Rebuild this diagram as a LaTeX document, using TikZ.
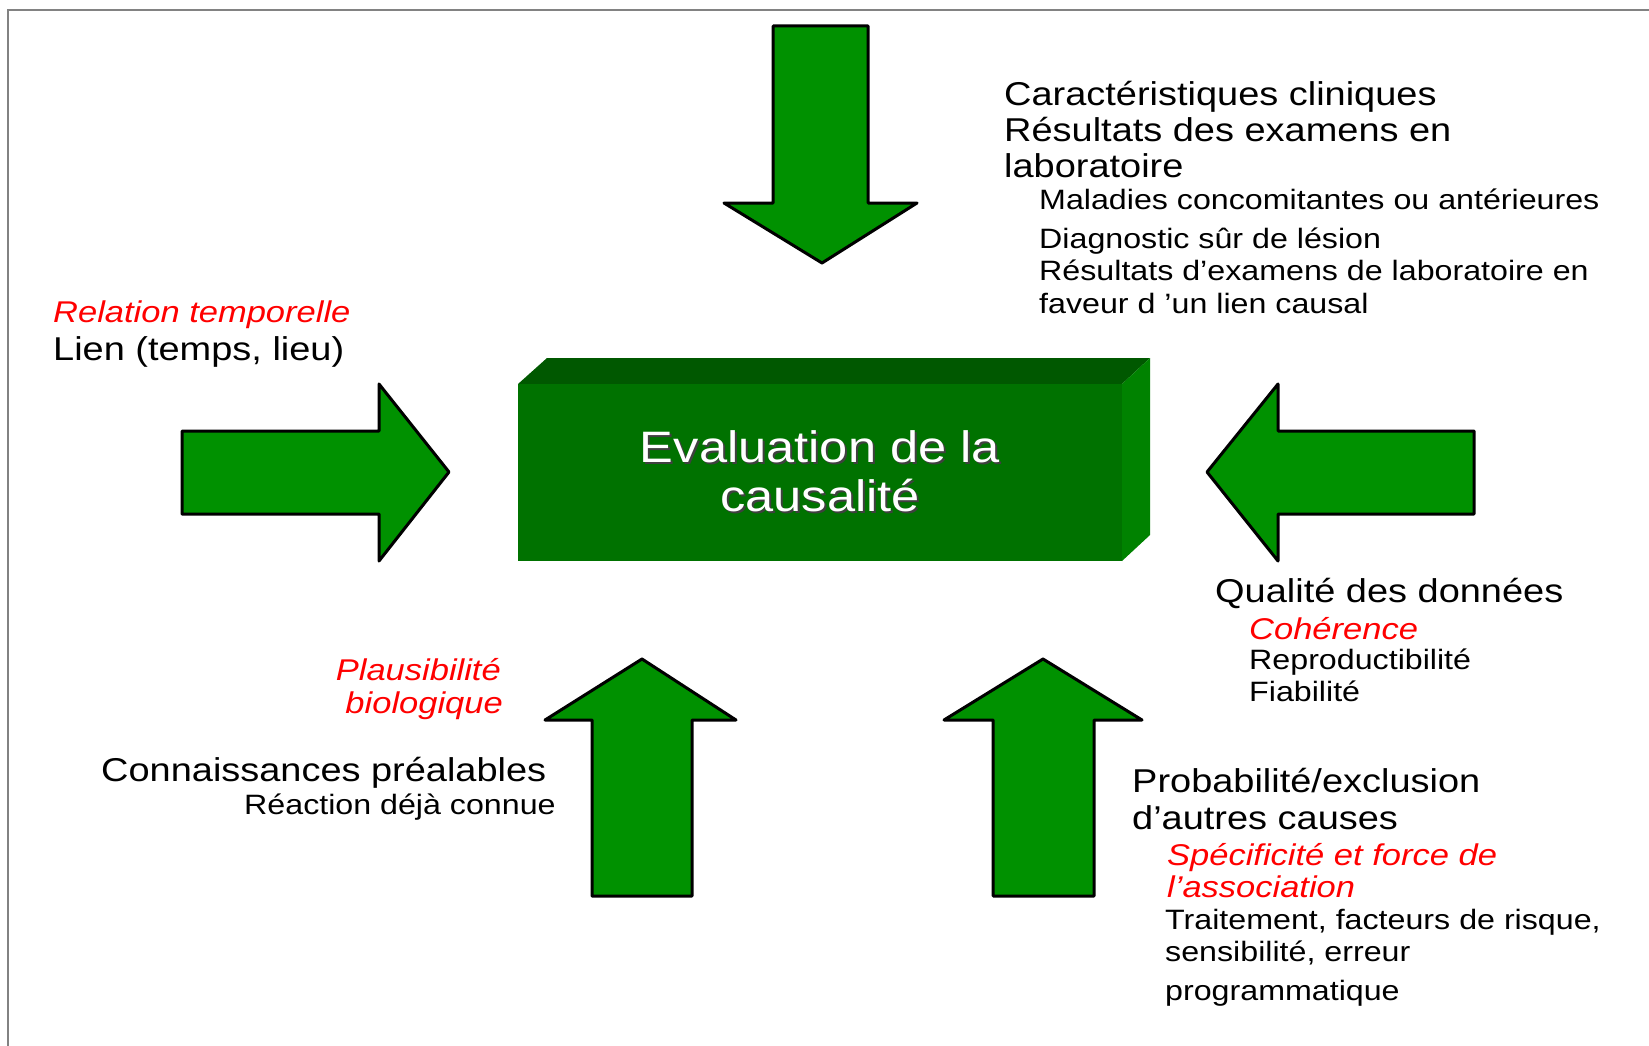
\documentclass[tikz,border=0pt]{standalone}
\usepackage{fontspec}
\setmainfont{Liberation Sans}[FakeStretch=1.15]
\definecolor{arrowgreen}{RGB}{0,145,0}
\definecolor{frontgreen}{RGB}{0,114,0}
\definecolor{topgreen}{RGB}{0,88,0}
\definecolor{sidegreen}{RGB}{0,130,0}
\definecolor{redtext}{RGB}{255,0,0}
\definecolor{framegray}{RGB}{130,130,130}
\begin{document}
\begin{tikzpicture}[x=1pt,y=-1pt,
  bigarrow/.style={fill=arrowgreen, draw=black, line width=3pt, line join=round},
  bigtxt/.style={anchor=base west, inner sep=0pt, font=\fontsize{33}{36}\selectfont},
  subtxt/.style={anchor=base west, inner sep=0pt, font=\fontsize{28}{32}\selectfont},
  redtxt/.style={anchor=base west, inner sep=0pt, text=redtext, font=\fontsize{30}{33}\selectfont\itshape},
  boxtxt/.style={anchor=base, inner sep=0pt, align=center, font=\fontsize{44}{49}\selectfont}]
\useasboundingbox (0,0) rectangle (1649,1046);
% frame
\draw[framegray, line width=2.5pt] (8,1046) -- (8,10) -- (1649,10);
% arrows
\draw[bigarrow] (773,26) -- (868,26) -- (868,203) -- (917,203) -- (822,263) -- (724,203) -- (773,203) -- cycle;
\draw[bigarrow] (182,431) -- (379,431) -- (379,384) -- (449,472) -- (379,561) -- (379,514) -- (182,514) -- cycle;
\draw[bigarrow] (1474,431) -- (1278,431) -- (1278,384) -- (1207,472) -- (1278,561) -- (1278,514) -- (1474,514) -- cycle;
\draw[bigarrow] (592,896) -- (592,720) -- (545,720) -- (642,659) -- (736,720) -- (692,720) -- (692,896) -- cycle;
\draw[bigarrow] (993,896) -- (993,720) -- (944,720) -- (1043,659) -- (1142,720) -- (1094,720) -- (1094,896) -- cycle;
% central 3D box
\fill[topgreen] (518,384) -- (547,358) -- (1150,358) -- (1122,384) -- cycle;
\fill[sidegreen] (1122,384) -- (1150,358) -- (1150,535) -- (1122,561) -- cycle;
\fill[frontgreen] (518,384) rectangle (1122,561);
\node[boxtxt, text=black!75] (evalshadow) at (822,513) {Evaluation de la\\causalité};
\node[boxtxt, text=white] (eval) at (820,511) {Evaluation de la\\causalité};
% top right block
\node[bigtxt] (c1) at (1004,106) {Caractéristiques cliniques};
\node[bigtxt] (c2) at (1004,142) {Résultats des examens en};
\node[bigtxt] (c3) at (1004,177) {laboratoire};
\node[subtxt] (c4) at (1039,209) {Maladies concomitantes ou antérieures};
\node[subtxt] (c5) at (1039,248) {Diagnostic sûr de lésion};
\node[subtxt] (c6) at (1039,280) {Résultats d’examens de laboratoire en};
\node[subtxt] (c7) at (1039,313) {faveur d ’un lien causal};
% left block
\node[redtxt] (l1) at (53,322) {Relation temporelle};
\node[bigtxt] (l2) at (53,360) {Lien (temps, lieu)};
% right middle block
\node[bigtxt] (q1) at (1215,602) {Qualité des données};
\node[redtxt] (q2) at (1249,639) {Cohérence};
\node[subtxt] (q3) at (1249,669) {Reproductibilité};
\node[subtxt] (q4) at (1249,701) {Fiabilité};
% bottom left block
\node[redtxt, anchor=base east] (p1) at (501,680) {Plausibilité};
\node[redtxt, anchor=base east] (p2) at (503,713) {biologique};
\node[bigtxt] (k1) at (101,781) {Connaissances préalables};
\node[subtxt] (k2) at (244,814) {Réaction déjà connue};
% bottom right block
\node[bigtxt] (e1) at (1132,792) {Probabilité/exclusion};
\node[bigtxt] (e2) at (1132,829) {d’autres causes};
\node[redtxt] (e3) at (1167,865) {Spécificité et force de};
\node[redtxt] (e4) at (1167,897) {l’association};
\node[subtxt] (e5) at (1165,929) {Traitement, facteurs de risque,};
\node[subtxt] (e6) at (1165,961) {sensibilité, erreur};
\node[subtxt] (e7) at (1165,1000) {programmatique};
\end{tikzpicture}
\end{document}
